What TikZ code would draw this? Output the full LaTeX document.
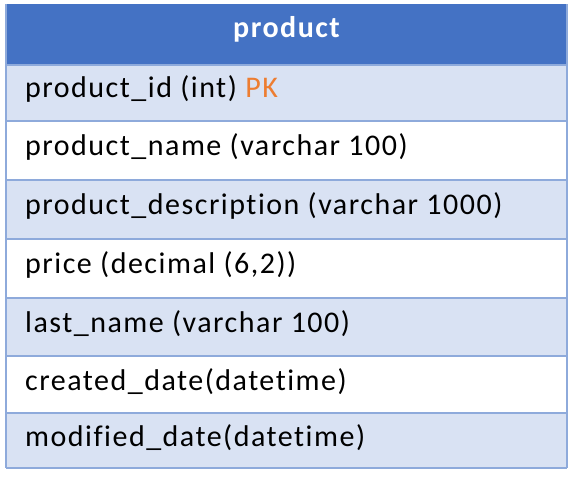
\documentclass[tikz,border=0pt]{standalone}
\usepackage{fontspec}
\setmainfont{Carlito}[LetterSpace=5,Ligatures=NoCommon]
\definecolor{hdr}{HTML}{4472C4}
\definecolor{rowlt}{HTML}{D9E2F3}
\definecolor{bord}{HTML}{8EAADB}
\definecolor{pk}{HTML}{ED7D31}
\begin{document}
\begin{tikzpicture}[x=1pt,y=-1pt,
  rowtext/.style={anchor=base west,inner sep=0pt,font=\fontsize{30}{36}\selectfont},
  hdrtext/.style={anchor=base,inner sep=0pt,text=white,font=\fontsize{30}{36}\selectfont\bfseries},
  band/.style={fill=rowlt},
  rule/.style={draw=bord,line width=1.5pt}]
\useasboundingbox (0,0) rectangle (576,480);
\fill[white] (0,0) rectangle (576,480);
% header
\fill[hdr] (6,4) rectangle (567,65);
\node[hdrtext] (h) at (286.5,37) {product};
% bands
\fill[band] (6,65) rectangle (567,121);
\fill[band] (6,180) rectangle (567,239);
\fill[band] (6,298) rectangle (567,356);
\fill[band] (6,413) rectangle (567,468);
% rules
\foreach \yy in {65,121,180,239,298,356,413,468} {\draw[rule] (6,\yy) -- (567,\yy);}
\draw[rule] (6,4) -- (6,468);
\draw[rule] (567,4) -- (567,468);
% texts
\node[rowtext] (r1) at (25,97) {product\_id (int) \textcolor{pk}{PK}};
\node[rowtext] (r2) at (25,155) {product\_name (varchar 100)};
\node[rowtext] (r3) at (25,214) {product\_description (varchar 1000)};
\node[rowtext] (r4) at (25,273) {price (decimal (6,2))};
\node[rowtext] (r5) at (25,332) {last\_name (varchar 100)};
\node[rowtext] (r6) at (25,390) {created\_date(datetime)};
\node[rowtext] (r7) at (25,446) {modified\_date(datetime)};
\end{tikzpicture}
\end{document}
